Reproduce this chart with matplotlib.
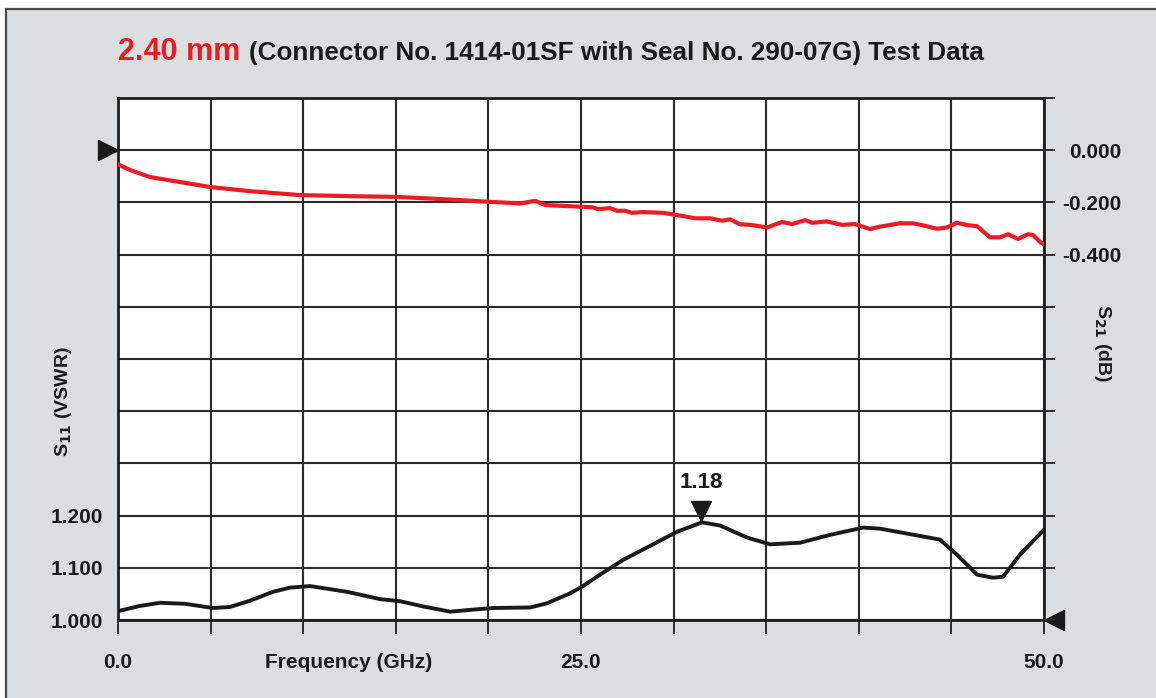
import matplotlib
matplotlib.use("Agg")
import matplotlib.pyplot as plt
from matplotlib.patches import Rectangle
import matplotlib.transforms as mtransforms

# S21 insertion loss (dB), right axis
s21_freq = [0.0, 0.65, 1.73, 3.35, 4.97, 7.13, 9.83, 12.53, 15.06, 17.93, 20.09, 21.71,
            22.52, 23.06, 25.11, 25.65, 25.92, 26.57, 26.94, 27.38, 27.75, 28.35, 29.43,
            30.24, 31.16, 31.97, 32.61, 33.05, 33.59, 34.13, 35.04, 35.85, 36.39, 37.10,
            37.47, 38.28, 39.09, 39.79, 40.60, 41.14, 42.22, 42.93, 43.47, 44.22, 44.76,
            45.30, 45.84, 46.38, 47.08, 47.62, 48.06, 48.60, 49.14, 49.41, 49.78, 50.0]
s21_db = [-0.054, -0.076, -0.103, -0.122, -0.141, -0.157, -0.172, -0.176, -0.179, -0.189,
          -0.198, -0.204, -0.194, -0.210, -0.217, -0.219, -0.226, -0.222, -0.232, -0.232,
          -0.240, -0.237, -0.240, -0.249, -0.261, -0.261, -0.270, -0.265, -0.284, -0.286,
          -0.296, -0.275, -0.283, -0.268, -0.278, -0.273, -0.286, -0.283, -0.302, -0.293,
          -0.280, -0.280, -0.288, -0.301, -0.296, -0.278, -0.287, -0.291, -0.334, -0.334,
          -0.322, -0.340, -0.322, -0.325, -0.351, -0.361]

# S11 VSWR, left axis
s11_freq = [0.0, 1.19, 2.27, 3.62, 5.13, 6.05, 7.13, 8.37, 9.29, 10.37, 12.37, 14.15,
            15.23, 16.47, 17.93, 19.55, 20.25, 22.25, 23.16, 24.41, 25.11, 26.03, 27.27,
            28.73, 30.18, 31.53, 32.51, 33.96, 35.21, 36.83, 38.44, 40.23, 41.14, 43.47,
            44.38, 45.30, 46.38, 47.25, 47.79, 48.70, 50.0]
s11_vswr = [1.017, 1.027, 1.033, 1.031, 1.023, 1.025, 1.037, 1.054, 1.062, 1.065, 1.054,
            1.040, 1.036, 1.026, 1.016, 1.021, 1.023, 1.024, 1.032, 1.051, 1.065, 1.087,
            1.115, 1.142, 1.169, 1.187, 1.181, 1.158, 1.145, 1.148, 1.163, 1.177, 1.175,
            1.160, 1.154, 1.125, 1.087, 1.081, 1.083, 1.125, 1.173]

x_ticks = [0, 5, 10, 15, 20, 25, 30, 35, 40, 45, 50]
x_labels = ["0.0", "", "", "", "", "25.0", "", "", "", "", "50.0"]
vswr_ticks = [1.0, 1.1, 1.2, 1.3, 1.4, 1.5, 1.6, 1.7, 1.8, 1.9, 2.0]
vswr_labels = ["1.000", "1.100", "1.200", "", "", "", "", "", "", "", ""]
db_ticks = [0.2, 0.0, -0.2, -0.4, -0.6, -0.8, -1.0, -1.2, -1.4, -1.6, -1.8]
db_labels = ["", "0.000", "-0.200", "-0.400", "", "", "", "", "", "", ""]

peak_freq = 31.5
peak_label = "1.18"

font = ["Liberation Sans", "DejaVu Sans"]
red = "#ed1c24"
ink = "#1a1a1a"
grid_c = "#2b2b2b"

W, H = 1156, 698
fig = plt.figure(figsize=(W / 100, H / 100), dpi=100, facecolor="white")

# gray panel with dark frame
fig.patches.append(Rectangle((6 / W, -0.05), 1.2, (H - 9) / H + 0.05, transform=fig.transFigure,
                             facecolor="#dcdddf", edgecolor="#4a4a4a", lw=1.6, zorder=-10))

ax = fig.add_axes([118 / W, (H - 620) / H, (1044 - 118) / W, (620 - 98) / H])
ax.set_zorder(2)
ax.set_facecolor("white")
ax.set_xlim(0, 50)
ax.set_ylim(1.0, 2.0)
ax.set_xticks(x_ticks)
ax.set_xticklabels(x_labels, family=font, fontweight="bold", fontsize=15, color=ink)
ax.set_yticks(vswr_ticks)
ax.set_yticklabels(vswr_labels, family=font, fontweight="bold", fontsize=15, color=ink)
ax.tick_params(axis="x", direction="out", length=10, width=1.4, color=grid_c, pad=14)
ax.tick_params(axis="y", length=0, pad=11)
ax.grid(True, color=grid_c, lw=1.5)
ax.set_axisbelow(True)
for s in ax.spines.values():
    s.set_color("#1e1e1e")
    s.set_linewidth(2.0)

ax2 = ax.twinx()
ax2.set_ylim(-1.8, 0.2)
ax2.set_yticks(db_ticks)
ax2.set_yticklabels(db_labels, family=font, fontweight="bold", fontsize=15, color=ink, ha="right")
ax2.tick_params(axis="y", direction="out", length=8, width=1.4, color=grid_c, pad=48)
for s in ax2.spines.values():
    s.set_visible(False)

ax2.plot(s21_freq, s21_db, color=red, lw=3.0, solid_joinstyle="round", zorder=3)
ax.plot(s11_freq, s11_vswr, color=ink, lw=2.8, solid_joinstyle="round", zorder=3)

# reference arrows
trL = mtransforms.blended_transform_factory(ax2.transAxes, ax2.transData)
ax2.plot([-0.011], [0.0], marker=">", ms=14, color=ink, transform=trL, clip_on=False)
trR = mtransforms.blended_transform_factory(ax.transAxes, ax.transData)
ax.plot([1.011], [1.0], marker="<", ms=14, color=ink, transform=trR, clip_on=False)

# peak marker
ax.plot([peak_freq], [1.209], marker="v", ms=15, color=ink, clip_on=False, zorder=4)
ax.text(peak_freq, 1.263, peak_label, ha="center", va="center", family=font,
        fontweight="bold", fontsize=16, color=ink)

# axis labels
fig.text(349 / W, 1 - 663 / H, "Frequency (GHz)", ha="center", va="center",
         family=font, fontweight="bold", fontsize=15, color=ink)
fig.text(64 / W, 1 - 402 / H, r"S$_{\mathbf{11}}$ (VSWR)", rotation=90, ha="center",
         va="center", family=font, fontweight="bold", fontsize=14, color=ink)
fig.text(1102 / W, 1 - 343 / H, r"S$_{\mathbf{21}}$ (dB)", rotation=270, ha="center",
         va="center", family=font, fontweight="bold", fontsize=14, color=ink)

# title
fig.text(118 / W, 1 - 52 / H, "2.40 mm", ha="left", va="center", family=font,
         fontweight="bold", fontsize=22, color=red)
fig.text(249 / W, 1 - 53 / H, "(Connector No. 1414-01SF with Seal No. 290-07G) Test Data",
         ha="left", va="center", family=font, fontweight="bold", fontsize=18.8, color=ink)

fig.savefig("out.png", dpi=100, facecolor=fig.get_facecolor())
